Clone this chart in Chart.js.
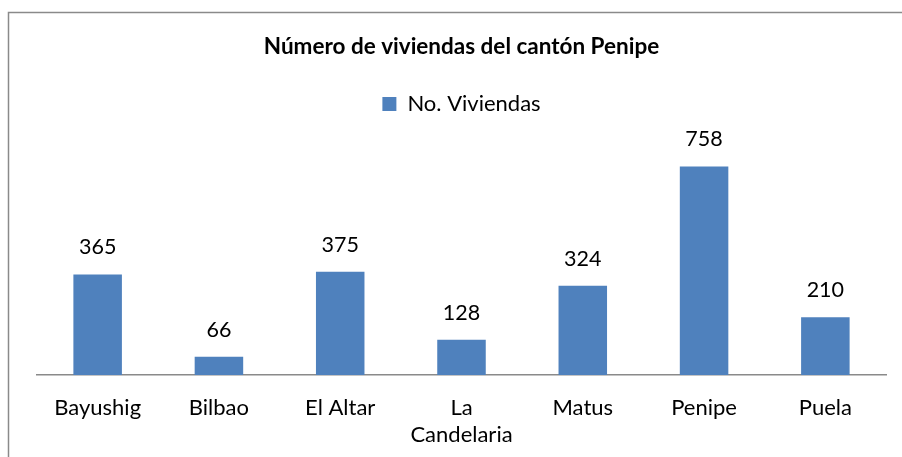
<!DOCTYPE html>
<html>
<head>
<meta charset="utf-8">
<script src="https://cdn.jsdelivr.net/npm/chart.js@4"></script>
<style>
  html, body { margin: 0; padding: 0; background: #fff; }
  #wrap { width: 902px; height: 457px; position: relative; }
</style>
</head>
<body>
<div id="wrap"><canvas id="viviendasChart"></canvas></div>
<script>
// Data
const parroquias = ['Bayushig', 'Bilbao', 'El Altar', ['La', 'Candelaria'], 'Matus', 'Penipe', 'Puela'];
const numViviendas = [365, 66, 375, 128, 324, 758, 210];
const seriesLabel = 'No. Viviendas';
const chartTitle = 'Número de viviendas del cantón Penipe';

const FONT = 'Lato, Carlito, Calibri, sans-serif';

// Outer frame of the chart (left and top edges are visible)
const framePlugin = {
  id: 'frame',
  beforeDraw(chart) {
    const ctx = chart.ctx;
    ctx.save();
    ctx.fillStyle = '#fff';
    ctx.fillRect(0, 0, chart.width, chart.height);
    ctx.strokeStyle = '#8a8a8a';
    ctx.lineWidth = 1.5;
    ctx.beginPath();
    ctx.moveTo(8.5, chart.height);
    ctx.lineTo(8.5, 12.5);
    ctx.lineTo(chart.width, 12.5);
    ctx.stroke();
    ctx.restore();
  }
};

// Extra space below the legend
const legendSpacer = {
  id: 'legendSpacer',
  beforeInit(chart) {
    const fit = chart.legend.fit;
    chart.legend.fit = function () {
      fit.bind(chart.legend)();
      this.height += 30;
    };
  }
};

// Value labels above each bar
const valueLabels = {
  id: 'valueLabels',
  afterDatasetsDraw(chart) {
    const ctx = chart.ctx;
    ctx.save();
    ctx.font = '21.5px ' + FONT;
    ctx.fillStyle = '#000';
    ctx.textAlign = 'center';
    ctx.textBaseline = 'middle';
    chart.getDatasetMeta(0).data.forEach((bar, i) => {
      ctx.fillText(String(numViviendas[i]), bar.x, bar.y - 27);
    });
    ctx.restore();
  }
};

const ctx = document.getElementById('viviendasChart').getContext('2d');
new Chart(ctx, {
  type: 'bar',
  data: {
    labels: parroquias,
    datasets: [{
      label: seriesLabel,
      data: numViviendas,
      backgroundColor: '#4F81BD',
      borderWidth: 0,
      categoryPercentage: 1,
      barPercentage: 0.4
    }]
  },
  options: {
    responsive: true,
    maintainAspectRatio: false,
    animation: false,
    layout: {
      padding: { left: 37, right: 16, top: 0, bottom: -11 }
    },
    plugins: {
      title: {
        display: true,
        text: chartTitle,
        color: '#000',
        font: { family: FONT, size: 22.5, weight: 'bold' },
        padding: { top: 33.5, bottom: 22.5 }
      },
      legend: {
        display: true,
        position: 'top',
        labels: {
          color: '#000',
          font: { family: FONT, size: 22 },
          boxWidth: 14,
          boxHeight: 14,
          padding: 10
        }
      },
      tooltip: { enabled: false }
    },
    scales: {
      x: {
        grid: { display: false, drawTicks: false },
        border: { display: true, color: '#8a8a8a', width: 1.5 },
        ticks: {
          color: '#000',
          font: { family: FONT, size: 22, lineHeight: 1.23 },
          padding: 19.5,
          maxRotation: 0,
          autoSkip: false
        }
      },
      y: {
        display: false,
        min: 0,
        max: 800
      }
    }
  },
  plugins: [framePlugin, legendSpacer, valueLabels]
});
</script>
</body>
</html>
